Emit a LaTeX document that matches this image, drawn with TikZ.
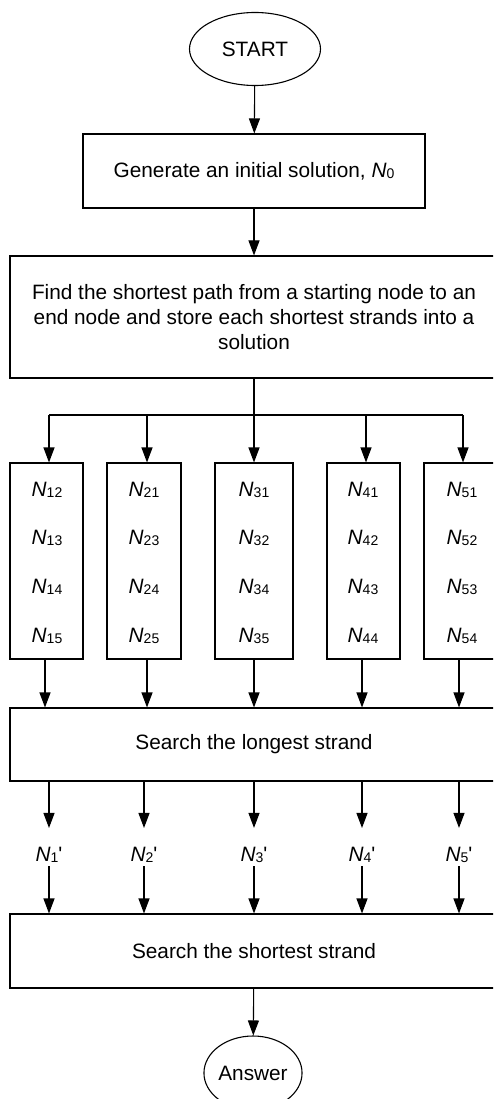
\documentclass[tikz,border=0pt]{standalone}
\usepackage{fontspec}
\setmainfont{Liberation Sans}
\usetikzlibrary{shapes.geometric,arrows.meta,calc}

% italic N with a small upright index
\newcommand{\Nsub}[1]{\textit{N}\raisebox{-0.12ex}{\fontsize{14}{14}\selectfont #1}}

\begin{document}
\begin{tikzpicture}[x=1pt,y=-1pt,
  every node/.style={font=\fontsize{20.8}{24.8}\selectfont},
  box/.style={draw, line width=1.1pt, inner sep=0pt},
  oval/.style={draw, ellipse, line width=1.1pt, inner sep=0pt},
  flow/.style={line width=1.1pt, -{Triangle[length=15pt,width=11pt]}},
  plain/.style={line width=1.1pt},
  lbl/.style={inner sep=0pt}]
\useasboundingbox (0,0) rectangle (493,1099);
\clip (0,0) rectangle (493,1099);

% main chain
\node[oval, minimum width=131pt, minimum height=73pt] (start) at (255,49) {START};
\node[box, minimum width=342pt, minimum height=74pt] (gen) at (254,171)
  {Generate an initial solution, \Nsub{0}};
\node[box, minimum width=488pt, minimum height=122pt, align=center] (find) at (254,317)
  {Find the shortest path from a starting node to an\\
   end node and store each shortest strands into a\\
   solution};

% five candidate columns
\node[box, minimum width=73pt, minimum height=196pt] (c1) at (46.5,561) {};
\node[box, minimum width=74pt, minimum height=196pt] (c2) at (144,561) {};
\node[box, minimum width=78pt, minimum height=196pt] (c3) at (254,561) {};
\node[box, minimum width=73pt, minimum height=196pt] (c4) at (363.5,561) {};
\node[box, minimum width=73pt, minimum height=196pt] (c5) at (460.5,561) {};

\foreach \col/\x/\a/\b/\c/\d in {1/47/12/13/14/15, 2/144/21/23/24/25,
    3/254/31/32/34/35, 4/363/41/42/43/44, 5/462/51/52/53/54}{
  \node[lbl] (t\col a) at (\x,490) {\Nsub{\a}};
  \node[lbl] (t\col b) at (\x,538) {\Nsub{\b}};
  \node[lbl] (t\col c) at (\x,587) {\Nsub{\c}};
  \node[lbl] (t\col d) at (\x,636) {\Nsub{\d}};
}

\node[box, minimum width=488pt, minimum height=73pt] (longest) at (254,744.5)
  {Search the longest strand};

% best strand of each column
\node[lbl] (p1) at (49,855) {\Nsub{1}\textquotesingle};
\node[lbl] (p2) at (144,855) {\Nsub{2}\textquotesingle};
\node[lbl] (p3) at (254,855) {\Nsub{3}\textquotesingle};
\node[lbl] (p4) at (362,855) {\Nsub{4}\textquotesingle};
\node[lbl] (p5) at (459,855) {\Nsub{5}\textquotesingle};

\node[box, minimum width=488pt, minimum height=74pt] (shortest) at (254,951)
  {Search the shortest strand};
\node[oval, minimum width=98pt, minimum height=74pt] (answer) at (253,1073) {Answer};

% connectors
\draw[flow] (start) -- (gen);
\draw[flow] (gen) -- (find);

% fan-out bar above the columns
\coordinate (b1) at (49,415);
\coordinate (b2) at (147,415);
\coordinate (b3) at (254,415);
\coordinate (b4) at (366,415);
\coordinate (b5) at (463,415);
\draw[plain] (find.south) -- (b3);
\draw[plain] (b1) -- (b5);

% exits of the columns
\coordinate (d1) at ([xshift=-1.5pt]c1.south);
\coordinate (d2) at ([xshift=3pt]c2.south);
\coordinate (d3) at (c3.south);
\coordinate (d4) at ([xshift=-1.5pt]c4.south);
\coordinate (d5) at ([xshift=-1.5pt]c5.south);

\foreach \i in {1,...,5}{
  \draw[flow] (b\i) -- (b\i |- c\i.north);
  \draw[flow] (d\i) -- (d\i |- longest.north);
  \draw[flow, shorten >=19pt] (longest.south -| p\i) -- (p\i.north);
  \draw[flow, shorten <=3pt] (p\i.south) -- (p\i |- shortest.north);
}

\draw[flow] (shortest) -- (answer);
\end{tikzpicture}
\end{document}
